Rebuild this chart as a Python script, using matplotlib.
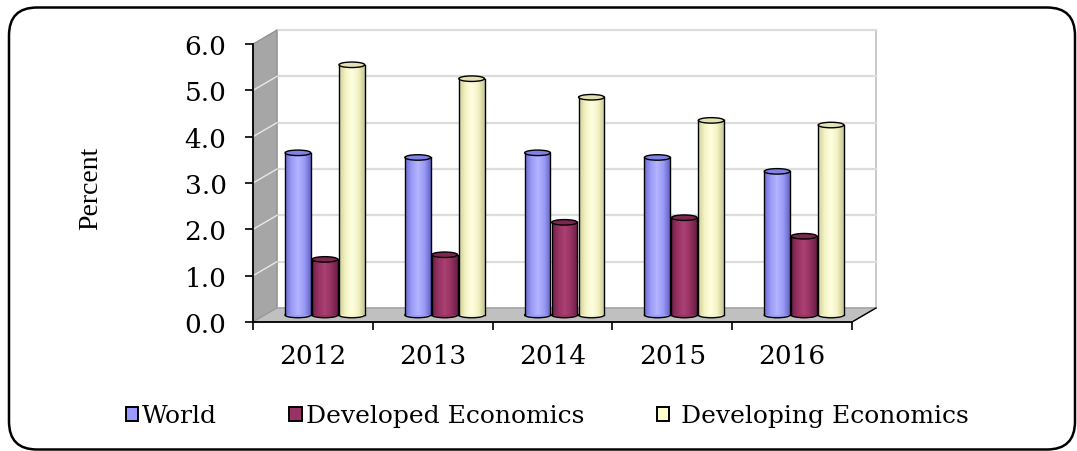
import numpy as np
import matplotlib
matplotlib.use("Agg")
import matplotlib.pyplot as plt
from matplotlib.patches import Polygon, Ellipse, FancyBboxPatch, Patch, Rectangle
from matplotlib.colors import LinearSegmentedColormap
import matplotlib.transforms as mtransforms

# ---- data ----
years = ["2012", "2013", "2014", "2015", "2016"]
world = [3.5, 3.4, 3.5, 3.4, 3.1]
developed = [1.2, 1.3, 2.0, 2.1, 1.7]
developing = [5.4, 5.1, 4.7, 4.2, 4.1]
series_names = ["World", "Developed Economics", "Developing Economics"]
yticks = [0.0, 1.0, 2.0, 3.0, 4.0, 5.0, 6.0]

# ---- styles ----
base_colors = ["#9999ff", "#993366", "#ffffcc"]
grad_colors = [
    ["#6c6cd0", "#9a9af8", "#b4b4ff", "#9a9af8", "#6464c4"],
    ["#6e2148", "#983262", "#aa4274", "#943060", "#6a1f45"],
    ["#cfcf9c", "#f4f4c4", "#ffffe2", "#f2f2c2", "#c8c894"],
]
top_colors = ["#8282e4", "#7c2650", "#e2e2b2"]

W, H, DPI = 1077, 452, 100
fig = plt.figure(figsize=(W / DPI, H / DPI), dpi=DPI)

# axes = front plane of 3D box
L, R, T, B = 253, 852, 45, 323
ax = fig.add_axes([L / W, (H - B) / H, (R - L) / W, (B - T) / H])
n = len(years)
ax.set_xlim(-0.5, n - 0.5)
ax.set_ylim(0, 6)
ax.patch.set_visible(False)

# depth offsets in pixels
DX, DY = 24, 14
px_x = (R - L) / n
px_y = (B - T) / 6.0
ddx, ddy = DX / px_x, DY / px_y

back_tr = ax.transData + mtransforms.ScaledTranslation(DX / DPI, DY / DPI, fig.dpi_scale_trans)
mid_tr = ax.transData + mtransforms.ScaledTranslation(DX / 2 / DPI, DY / 2 / DPI, fig.dpi_scale_trans)

x0, x1 = -0.5, n - 0.5
ymax = 6.0

# back wall
ax.add_patch(Rectangle((x0, 0), x1 - x0, ymax, transform=back_tr, facecolor="white",
                       edgecolor="#bfbfbf", lw=1.2, zorder=0.5, clip_on=False))
for yv in yticks[1:]:
    ax.plot([x0, x1], [yv, yv], transform=back_tr, color="#dcdcdc", lw=1.6,
            zorder=0.6, clip_on=False)

# left wall
ax.add_patch(Polygon([(x0, 0), (x0, ymax), (x0 + ddx, ymax + ddy), (x0 + ddx, ddy)],
                     closed=True, facecolor="#a6a6a6", edgecolor="#8c8c8c", lw=0.8,
                     zorder=0.7, clip_on=False))
for yv in yticks[1:-1]:
    ax.plot([x0, x0 + ddx], [yv, yv + ddy], color="#e8e8e8", lw=1.0, zorder=0.8, clip_on=False)

# floor
ax.add_patch(Polygon([(x0, 0), (x1, 0), (x1 + ddx, ddy), (x0 + ddx, ddy)],
                     closed=True, facecolor="#c0c0c0", edgecolor="#9a9a9a", lw=0.8,
                     zorder=0.7, clip_on=False))
ax.plot([x1, x1 + ddx], [0, ddy], color="black", lw=1.0, zorder=0.9, clip_on=False)

# bars as cylinders
bw = 0.215
spacing = 0.225
ell_h = 5.5 / px_y
xs = np.arange(n)
all_series = [world, developed, developing]
for si, vals in enumerate(all_series):
    cmap = LinearSegmentedColormap.from_list("c%d" % si, grad_colors[si])
    offs = (si - 1) * spacing
    for i, v in enumerate(vals):
        xc = xs[i] + offs
        z = 2 + i * 0.01 + si * 0.001
        ax.add_patch(Ellipse((xc, 0), bw, ell_h, transform=mid_tr,
                             facecolor=grad_colors[si][1], edgecolor="black", lw=1.0,
                             zorder=z, clip_on=False))
        bars = ax.bar([xc], [v], width=bw, color=base_colors[si], edgecolor="none",
                      zorder=z + 0.002)
        bar = bars[0]
        bar.set_transform(mid_tr)
        bar.set_clip_on(False)
        grad = np.linspace(0, 1, 64).reshape(1, -1)
        im = ax.imshow(grad, cmap=cmap, aspect="auto", interpolation="bicubic",
                       extent=(xc - bw / 2, xc + bw / 2, 0, v), transform=mid_tr,
                       zorder=z + 0.003)
        im.set_clip_path(bar)
        ax.plot([xc - bw / 2, xc - bw / 2], [0, v], transform=mid_tr, color="black",
                lw=1.0, zorder=z + 0.004, clip_on=False)
        ax.plot([xc + bw / 2, xc + bw / 2], [0, v], transform=mid_tr, color="black",
                lw=1.0, zorder=z + 0.004, clip_on=False)
        ax.add_patch(Ellipse((xc, v), bw, ell_h, transform=mid_tr,
                             facecolor=top_colors[si], edgecolor="black", lw=1.0,
                             zorder=z + 0.005, clip_on=False))

ax.set_xlim(-0.5, n - 0.5)
ax.set_ylim(0, 6)

# axes spines / ticks
for s in ["top", "right"]:
    ax.spines[s].set_visible(False)
for s in ["left", "bottom"]:
    ax.spines[s].set_color("black")
    ax.spines[s].set_linewidth(1.3)
    ax.spines[s].set_zorder(5)

ax.set_yticks(yticks)
ax.set_yticklabels(["%.1f" % t for t in yticks], family="DejaVu Serif", fontsize=19)
ax.tick_params(axis="y", direction="out", length=6, width=1.2, pad=13)

ax.set_xticks(np.arange(n + 1) - 0.5)
ax.set_xticklabels([""] * (n + 1))
ax.set_xticks(xs, minor=True)
ax.set_xticklabels(years, minor=True, family="DejaVu Serif", fontsize=19)
ax.tick_params(axis="x", which="major", direction="out", length=6, width=1.2)
ax.tick_params(axis="x", which="minor", length=0, pad=15)

ax.set_ylabel("Percent", family="Liberation Serif", fontsize=20)
ax.yaxis.set_label_coords(-0.25, 0.486)

# legend
handles = [Patch(facecolor=base_colors[k], edgecolor="black", lw=1.4) for k in range(3)]
labels = [series_names[0], series_names[1], " " + series_names[2]]
fig.legend(handles, labels, loc="center", bbox_to_anchor=(0.508, (H - 417) / H),
           ncol=3, frameon=False, prop={"family": "DejaVu Serif", "size": 18},
           handlelength=0.5, handleheight=0.5, handletextpad=0.15, columnspacing=2.9)

# rounded frame
fig.patches.append(FancyBboxPatch((9, 1.5), 1066, 442, boxstyle="round,pad=0,rounding_size=28",
                                  transform=None, facecolor="none", edgecolor="black",
                                  lw=1.8, figure=fig))

fig.savefig("out.png", dpi=DPI)
